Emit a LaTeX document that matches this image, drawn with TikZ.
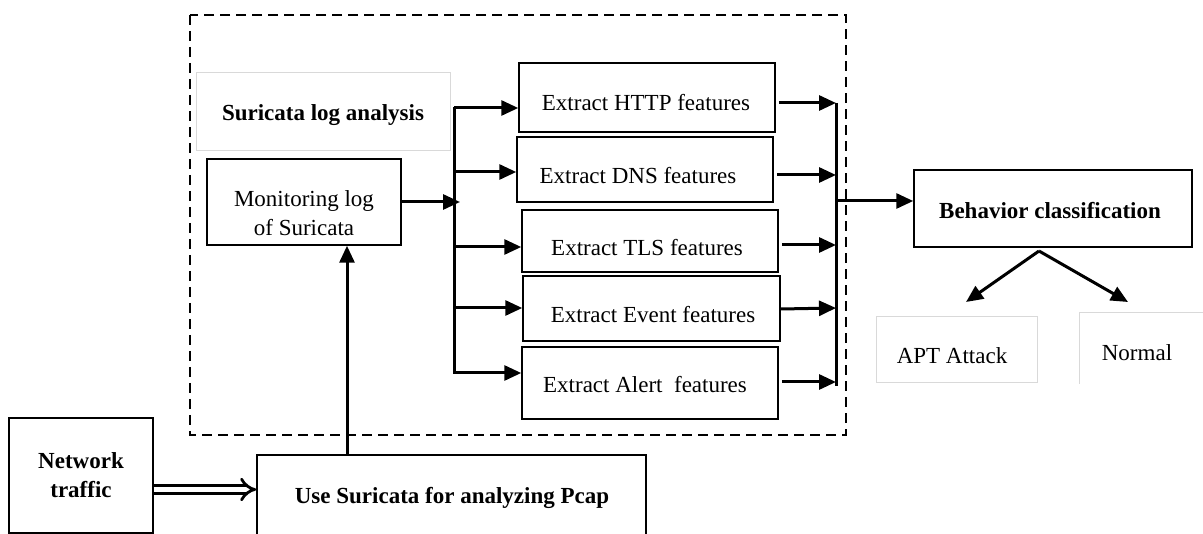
\documentclass[tikz,border=0pt]{standalone}
\usepackage{fontspec}
\setmainfont{Liberation Serif}
\usetikzlibrary{arrows.meta}
\tikzset{
  box/.style={draw=black, line width=1.5pt, inner sep=0pt},
  lightbox/.style={draw=black!15, line width=1pt, inner sep=0pt},
  txt/.style={inner sep=0pt, align=center, font=\fontsize{23}{29}\selectfont},
  btxt/.style={txt, font=\fontsize{23}{29}\selectfont\bfseries},
  arr/.style={line width=3pt, -{Triangle[length=17pt,width=15pt]}},
  ln/.style={line width=3pt},
}
\begin{document}
\begin{tikzpicture}[x=1pt,y=-1pt]
\useasboundingbox (0,0) rectangle (1203,534);
% dashed frame
\draw[line width=2.7pt, dash pattern=on 10pt off 6pt] (190,15) rectangle (846,435);
% Suricata log analysis title box
\node[lightbox, minimum width=254pt, minimum height=78pt] (title) at (323,112) {};
\node[btxt] (titletxt) at (323,115) {Suricata log analysis};
% Monitoring
\node[box, minimum width=194pt, minimum height=86pt] (mon) at (304,202) {};
\node[txt] (montxt) at (304,213) {Monitoring log\\of Suricata};
% feature boxes
\node[box, minimum width=256pt, minimum height=69pt] (http) at (647,97.5) {};
\node[txt] (httptxt) at (646,103) {Extract HTTP features};
\node[box, minimum width=256pt, minimum height=65pt] (dns) at (645,169.5) {};
\node[txt] (dnstxt) at (638,176) {Extract DNS features};
\node[box, minimum width=256pt, minimum height=62pt] (tls) at (650,241) {};
\node[txt] (tlstxt) at (647,248) {Extract TLS features};
\node[box, minimum width=257pt, minimum height=65pt] (event) at (651.5,308.5) {};
\node[txt] (eventtxt) at (653,315) {Extract Event features};
\node[box, minimum width=256pt, minimum height=72pt] (alert) at (650,383) {};
\node[txt] (alerttxt) at (645,385) {Extract Alert\ \ features};
% behavior
\node[box, minimum width=278pt, minimum height=77pt] (beh) at (1053,208.5) {};
\node[btxt] (behtxt) at (1050,211) {Behavior classification};
\node[lightbox, minimum width=161pt, minimum height=66pt] (apt) at (956.5,350) {};
\node[txt] (apttxt) at (952,356) {APT Attack};
\draw[black!15, line width=1pt] (1079,384) -- (1079,313) -- (1203,313);
\node[txt] (normtxt) at (1137,353) {Normal};
% network traffic and pcap
\node[box, minimum width=144pt, minimum height=115pt] (net) at (81,475.5) {};
\node[btxt] (nettxt) at (81,475) {Network\\traffic};
\node[box, minimum width=389pt, minimum height=90pt] (pcap) at (451.5,500) {};
\node[btxt] (pcaptxt) at (452,498) {Use Suricata for analyzing Pcap};
% connectors
\draw[line width=2.8pt, double, double distance=5pt, -{Implies[length=11pt,width=26pt]}] (net.east|-0,489.5) -- (pcap.west|-0,489.5);
\draw[arr] (pcap.north-|347,0) -- (mon.south-|347,0);
\coordinate (bx) at (460,202);
\draw[arr] (mon.east) -- (bx);
\draw[ln] (454,107) -- (454,374.5);
\draw[arr] (454,108) -- (http.west|-0,108);
\draw[arr] (454,172) -- (dns.west|-0,172);
\draw[arr] (454,247) -- (tls.west|-0,247);
\draw[arr] (454,308) -- (event.west|-0,308);
\draw[arr] (454,373) -- (alert.west|-0,373);
\draw[ln] (836,103) -- (836,386);
\draw[arr] ([xshift=3pt]http.east|-0,103) -- (836,103);
\draw[arr] ([xshift=3pt]dns.east|-0,175) -- (836,175);
\draw[arr] ([xshift=3pt]tls.east|-0,245) -- (836,245);
\draw[arr] (event.east|-0,309) -- (836,308);
\draw[arr] ([xshift=3pt]alert.east|-0,382) -- (836,382);
\draw[arr] (836,201) -- (beh.west|-0,201);
\coordinate (split) at (1039,251);
\coordinate (aptend) at (966,302);
\coordinate (normend) at (1128,302);
\draw[arr] (split) -- (aptend);
\draw[arr] (split) -- (normend);
\end{tikzpicture}
\end{document}
